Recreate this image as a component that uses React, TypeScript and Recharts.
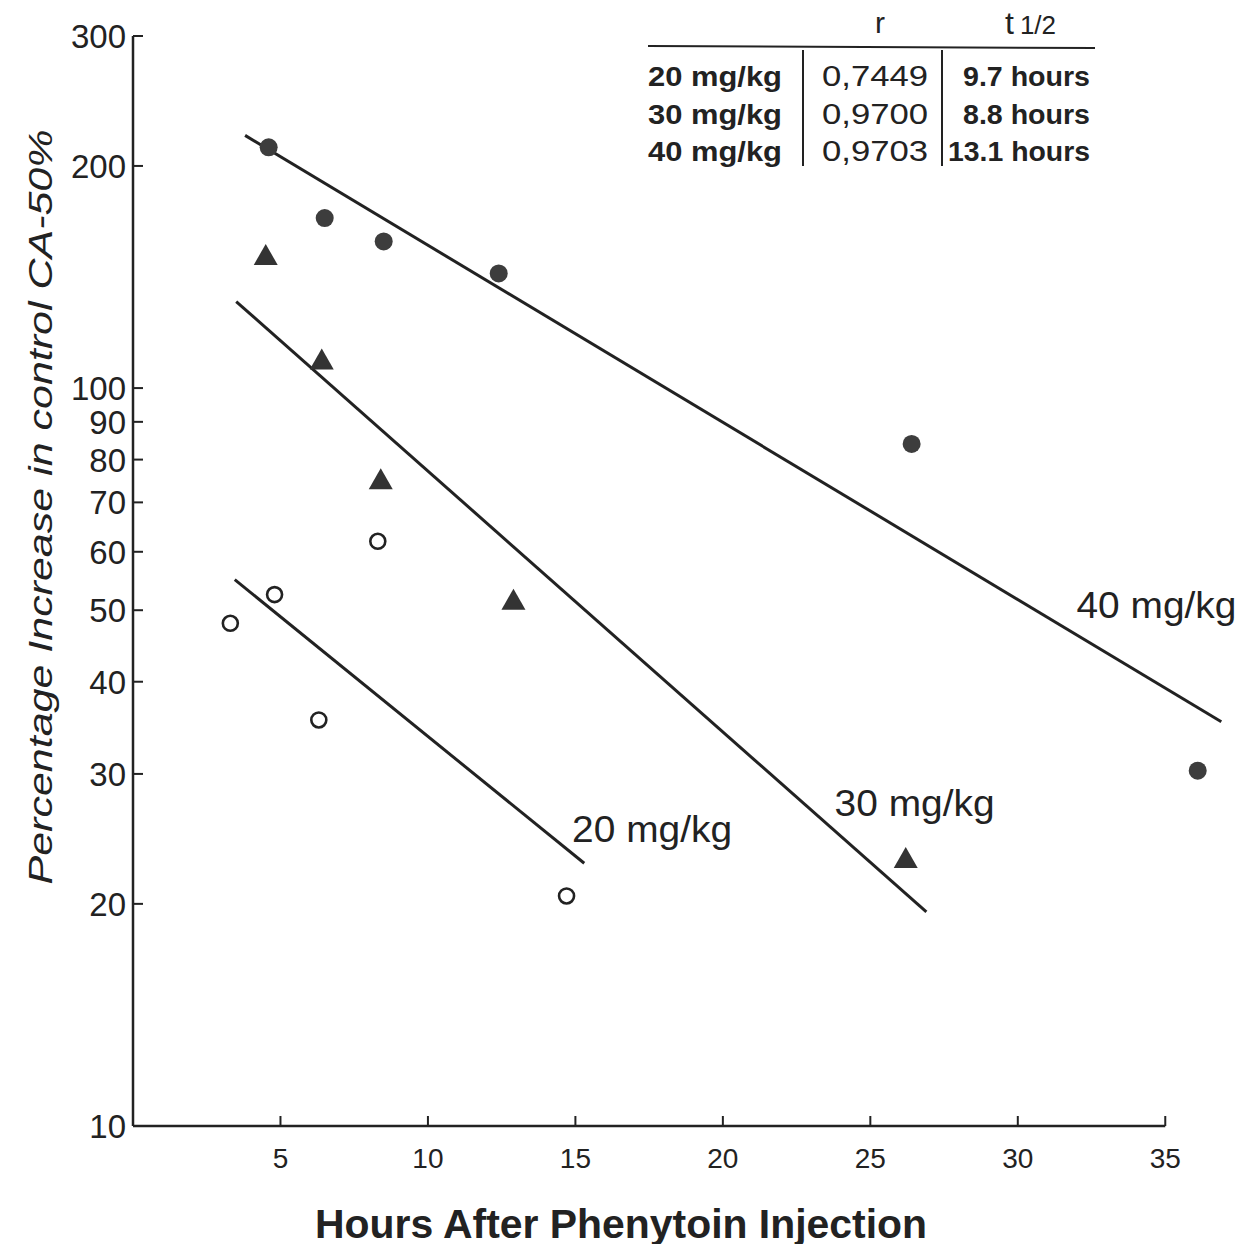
import React from 'react';
import { ComposedChart, Scatter, Line, XAxis, YAxis, ReferenceLine, ReferenceDot } from 'recharts';

// measured points (hours, % increase)
const hours40 = [4.6, 6.5, 8.5, 12.4, 26.4, 36.1];
const pct40 = [212, 170, 158, 143, 84, 30.3];
const hours30 = [4.5, 6.4, 8.4, 12.9, 26.2];
const pct30 = [151, 109, 75, 51.5, 23];
const hours20 = [3.3, 4.8, 8.3, 6.3, 14.7];
const pct20 = [48, 52.5, 62, 35.5, 20.5];

// regression line end points
const fitHours40 = [3.8, 36.9];
const fitPct40 = [220, 35.3];
const fitHours30 = [3.5, 26.9];
const fitPct30 = [131, 19.5];
const fitHours20 = [3.45, 15.3];
const fitPct20 = [55, 22.7];

const xTicks = [5, 10, 15, 20, 25, 30, 35];
const yTicks = [10, 20, 30, 40, 50, 60, 70, 80, 90, 100, 200, 300];

const doses = ['20 mg/kg', '30 mg/kg', '40 mg/kg'];
const rValues = ['0,7449', '0,9700', '0,9703'];
const halfLives = ['9.7 hours', '8.8 hours', '13.1 hours'];

// where each line's dose label sits (data coords)
const labelHours = [17.6, 26.5, 34.7];
const labelPct = [25.3, 27.4, 50.8];

const pts = (xs: number[], ys: number[]) => xs.map((x, i) => ({ x, y: ys[i] }));

const INK = '#222';
const FONT = '"Liberation Sans", Arial, sans-serif';

const FilledDot = (p: any) => <circle cx={p.cx} cy={p.cy} r={9} fill="#3d3d3d" />;
const Tri = (p: any) => (
  <polygon
    points={`${p.cx},${p.cy - 12} ${p.cx + 12},${p.cy + 9} ${p.cx - 12},${p.cy + 9}`}
    fill="#333"
  />
);
const OpenDot = (p: any) => (
  <circle cx={p.cx} cy={p.cy} r={7.5} fill="#fff" stroke={INK} strokeWidth={2.6} />
);

const XTick = ({ x, y, payload }: any) => (
  <g>
    <line x1={x} y1={y} x2={x} y2={y - 10} stroke={INK} strokeWidth={2} />
    <text x={x} y={y + 42} textAnchor="middle" fontSize={28} fill={INK} fontFamily={FONT}>
      {payload.value}
    </text>
  </g>
);

const YTick = ({ x, y, payload }: any) => (
  <g>
    <line x1={x} y1={y} x2={x + 10} y2={y} stroke={INK} strokeWidth={2} />
    <text x={x - 7} y={y + 12} textAnchor="end" fontSize={33} fill={INK} fontFamily={FONT}>
      {payload.value}
    </text>
  </g>
);

const doseLabel = (text: string) => (p: any) => (
  <text
    x={p.cx}
    y={p.cy + 13}
    textAnchor="middle"
    fontSize={36}
    fill={INK}
    fontFamily={FONT}
    textLength={160}
    lengthAdjust="spacingAndGlyphs"
  >
    {text}
  </text>
);

const rowY = [86, 124, 161];

export default function App() {
  return (
    <div style={{ position: 'relative', width: 1248, height: 1252, margin: -8, background: '#fff' }}>
      <ComposedChart width={1248} height={1252} margin={{ top: 36, right: 9, bottom: 0, left: 0 }}>
        <XAxis
          type="number"
          dataKey="x"
          domain={[0, 37.5]}
          ticks={xTicks}
          interval={0}
          axisLine={false}
          tickLine={false}
          tickSize={0}
          tickMargin={0}
          height={126}
          tick={<XTick />}
        />
        <YAxis
          type="number"
          dataKey="y"
          scale="log"
          domain={[10, 300]}
          ticks={yTicks}
          interval={0}
          allowDataOverflow
          axisLine={{ stroke: INK, strokeWidth: 2.5 }}
          tickLine={false}
          tickSize={0}
          tickMargin={0}
          width={133}
          tick={<YTick />}
        />
        <ReferenceLine
          segment={[{ x: 0, y: 10 }, { x: 35, y: 10 }]}
          stroke={INK}
          strokeWidth={2.5}
        />
        <Line data={pts(fitHours40, fitPct40)} dataKey="y" stroke={INK} strokeWidth={3} dot={false} isAnimationActive={false} />
        <Line data={pts(fitHours30, fitPct30)} dataKey="y" stroke={INK} strokeWidth={3} dot={false} isAnimationActive={false} />
        <Line data={pts(fitHours20, fitPct20)} dataKey="y" stroke={INK} strokeWidth={3} dot={false} isAnimationActive={false} />
        <Scatter data={pts(hours40, pct40)} shape={FilledDot} isAnimationActive={false} />
        <Scatter data={pts(hours30, pct30)} shape={Tri} isAnimationActive={false} />
        <Scatter data={pts(hours20, pct20)} shape={OpenDot} isAnimationActive={false} />
        {doses.map((d, i) => (
          <ReferenceDot key={d} x={labelHours[i]} y={labelPct[i]} r={0} shape={doseLabel(d)} />
        ))}
      </ComposedChart>

      <svg
        width={1248}
        height={1252}
        style={{ position: 'absolute', left: 0, top: 0, pointerEvents: 'none' }}
        fontFamily={FONT}
        fill={INK}
      >
        <text
          transform="translate(52,507) rotate(-90)"
          textAnchor="middle"
          fontSize={34}
          fontStyle="italic"
          textLength={755}
          lengthAdjust="spacingAndGlyphs"
        >
          Percentage Increase in control CA-50%
        </text>
        <text
          x={621}
          y={1238}
          textAnchor="middle"
          fontSize={40}
          fontWeight="bold"
          textLength={612}
          lengthAdjust="spacingAndGlyphs"
        >
          Hours After Phenytoin Injection
        </text>

        {/* summary table */}
        <text x={880} y={33} textAnchor="middle" fontSize={30}>r</text>
        <text x={1005} y={34} fontSize={32}>
          t<tspan dx={6} fontSize={26}>1/2</tspan>
        </text>
        <line x1={648} y1={46} x2={1095} y2={48} stroke={INK} strokeWidth={2} />
        <line x1={803} y1={50} x2={803} y2={166} stroke={INK} strokeWidth={2} />
        <line x1={942} y1={50} x2={942} y2={166} stroke={INK} strokeWidth={2} />
        {doses.map((d, i) => (
          <text key={d} x={648} y={rowY[i]} fontSize={28} fontWeight="bold" textLength={134} lengthAdjust="spacingAndGlyphs">
            {d}
          </text>
        ))}
        {rValues.map((v, i) => (
          <text key={v} x={822} y={rowY[i]} fontSize={29} textLength={106} lengthAdjust="spacingAndGlyphs">
            {v}
          </text>
        ))}
        {halfLives.map((v, i) => (
          <text key={v} x={1090} y={rowY[i]} textAnchor="end" fontSize={28} fontWeight="bold" textLength={i === 2 ? 142 : 127} lengthAdjust="spacingAndGlyphs">
            {v}
          </text>
        ))}
      </svg>
    </div>
  );
}
